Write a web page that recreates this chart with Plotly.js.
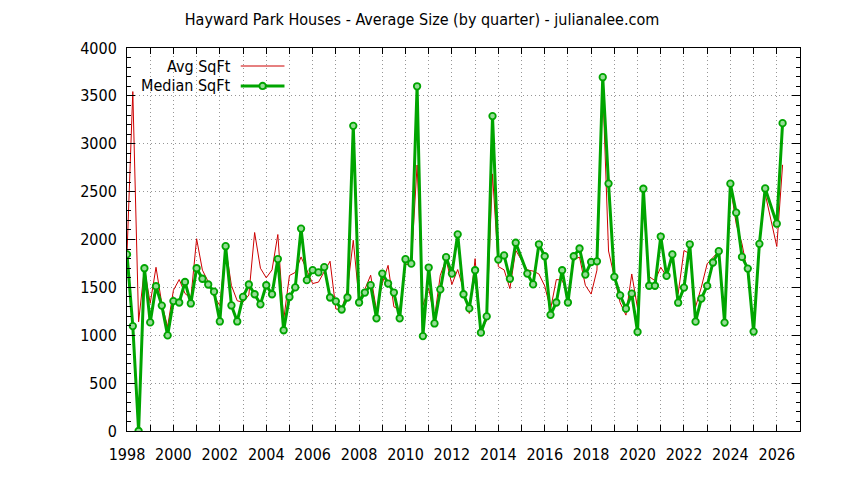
<!DOCTYPE html>
<html>
<head>
<meta charset="utf-8">
<script src="https://cdn.plot.ly/plotly-3.0.1.min.js"></script>
<style>
  html, body { margin: 0; padding: 0; background: #fff; }
  #chart { width: 844px; height: 480px; }
</style>
</head>
<body>
<div id="chart"></div>
<script>
// Quarter positions (decimal years); 2015 Q1 and 2025 Q4 have no data
const quarters = [
  1998.00, 1998.25, 1998.50, 1998.75,
  1999.00, 1999.25, 1999.50, 1999.75,
  2000.00, 2000.25, 2000.50, 2000.75,
  2001.00, 2001.25, 2001.50, 2001.75,
  2002.00, 2002.25, 2002.50, 2002.75,
  2003.00, 2003.25, 2003.50, 2003.75,
  2004.00, 2004.25, 2004.50, 2004.75,
  2005.00, 2005.25, 2005.50, 2005.75,
  2006.00, 2006.25, 2006.50, 2006.75,
  2007.00, 2007.25, 2007.50, 2007.75,
  2008.00, 2008.25, 2008.50, 2008.75,
  2009.00, 2009.25, 2009.50, 2009.75,
  2010.00, 2010.25, 2010.50, 2010.75,
  2011.00, 2011.25, 2011.50, 2011.75,
  2012.00, 2012.25, 2012.50, 2012.75,
  2013.00, 2013.25, 2013.50, 2013.75,
  2014.00, 2014.25, 2014.50, 2014.75,
           2015.25, 2015.50, 2015.75,
  2016.00, 2016.25, 2016.50, 2016.75,
  2017.00, 2017.25, 2017.50, 2017.75,
  2018.00, 2018.25, 2018.50, 2018.75,
  2019.00, 2019.25, 2019.50, 2019.75,
  2020.00, 2020.25, 2020.50, 2020.75,
  2021.00, 2021.25, 2021.50, 2021.75,
  2022.00, 2022.25, 2022.50, 2022.75,
  2023.00, 2023.25, 2023.50, 2023.75,
  2024.00, 2024.25, 2024.50, 2024.75,
  2025.00, 2025.25, 2025.50,
  2026.00, 2026.25
];

const avgSqFt = [
  1850, 3545, 1140, 1700,
  1333, 1710, 1330, 1088,
  1470, 1582, 1436, 1384,
  2008, 1680, 1560, 1410,
  1310, 1920, 1520, 1360,
  1345, 1420, 2073, 1700,
  1600, 1683, 2052, 1158,
  1624, 1656, 1818, 1680,
  1540, 1555, 1660, 1773,
  1274, 1268, 1480, 1992,
  1366, 1480, 1627, 1260,
  1540, 1730, 1297, 1265,
  1740, 1741, 2778, 1310,
  1490, 1180, 1627, 1792,
  1530, 1686, 1480, 1227,
  1800, 1045, 1158, 2685,
  1717, 1683, 1487, 1887,
        1682, 1670, 1640,
  1515, 1270, 1582, 1575,
  1427, 1790, 1816, 1522,
  1430, 1680, 3600, 1880,
  1620, 1340, 1210, 1640,
  1280, 2350, 1612, 1570,
  1710, 1615, 1820, 1434,
  1885, 1851, 1295, 1503,
  1746, 1816, 1878, 1094,
  2562, 2163, 1955, 1642,
  1087, 1955, 2476,
  1927, 2780
];

const medianSqFt = [
  1844, 1096, 0, 1700,
  1134, 1512, 1310, 998,
  1357, 1342, 1556, 1332,
  1700, 1590, 1530, 1455,
  1144, 1930, 1311, 1144,
  1400, 1530, 1428, 1323,
  1522, 1428, 1796, 1052,
  1400, 1500, 2114, 1575,
  1680, 1656, 1712, 1394,
  1354, 1269, 1394, 3187,
  1342, 1446, 1523, 1177,
  1644, 1540, 1446, 1177,
  1794, 1748, 3600, 991,
  1707, 1123, 1479, 1815,
  1644, 2054, 1428, 1280,
  1679, 1027, 1197, 3289,
  1790, 1834, 1590, 1966,
        1644, 1531, 1950,
  1825, 1213, 1342, 1679,
  1342, 1825, 1906, 1634,
  1765, 1772, 3695, 2584,
  1610, 1417, 1278, 1434,
  1035, 2530, 1517, 1517,
  2031, 1621, 1844, 1340,
  1498, 1950, 1142, 1383,
  1516, 1760, 1878, 1132,
  2583, 2280, 1818, 1696,
  1038, 1955, 2533,
  2165, 3215
];

const xTickVals = [1998, 2000, 2002, 2004, 2006, 2008, 2010, 2012, 2014, 2016, 2018, 2020, 2022, 2024, 2026];
const xTickText = ['1998', '2000', '2002', '2004', '2006', '2008', '2010', '2012', '2014', '2016', '2018', '2020', '2022', '2024', '2026'];
const yTickVals = [0, 500, 1000, 1500, 2000, 2500, 3000, 3500, 4000];
const seriesNames = ['Avg SqFt', 'Median SqFt'];
const chartTitle = 'Hayward Park Houses - Average Size (by quarter) - julianalee.com';

const FONT = 'DejaVu Sans Condensed, Liberation Sans Narrow, Liberation Sans, sans-serif';
const FS = 16;
const RED = 'rgb(205,0,0)';
const GREEN = 'rgb(0,165,0)';
const GRID = 'rgb(150,150,150)';
const DOTS = '1px,3px';

const traces = [
  {
    x: quarters, y: avgSqFt, name: seriesNames[0], type: 'scatter', mode: 'lines',
    line: { color: RED, width: 1 }, showlegend: false, hoverinfo: 'skip'
  },
  {
    x: quarters, y: medianSqFt, name: seriesNames[1], type: 'scatter', mode: 'lines+markers',
    line: { color: GREEN, width: 3 },
    marker: { symbol: 'circle', size: 6.5, color: 'rgb(150,220,150)', line: { color: GREEN, width: 1.8 } },
    showlegend: false, hoverinfo: 'skip'
  }
];

// Custom gnuplot-style legend (text then sample), placed in paper coordinates
const legRows = [0.953, 0.901];
const annotations = seriesNames.map((n, i) => ({
  xref: 'paper', yref: 'paper', x: 0.157, y: legRows[i],
  xanchor: 'right', yanchor: 'middle', text: n, showarrow: false,
  font: { family: FONT, size: FS, color: '#000' }
}));
const shapes = [
  { type: 'line', xref: 'paper', yref: 'paper', x0: 0.169, x1: 0.234, y0: legRows[0], y1: legRows[0],
    line: { color: RED, width: 1 } },
  { type: 'line', xref: 'paper', yref: 'paper', x0: 0.169, x1: 0.234, y0: legRows[1], y1: legRows[1],
    line: { color: GREEN, width: 3 } },
  { type: 'circle', xref: 'paper', yref: 'paper', x0: 0.2015 - 0.0047, x1: 0.2015 + 0.0047,
    y0: legRows[1] - 0.0083, y1: legRows[1] + 0.0083,
    fillcolor: 'rgb(150,220,150)', line: { color: GREEN, width: 1.8 } }
];

const layout = {
  width: 844, height: 480,
  margin: { l: 127, r: 44, t: 48, b: 49, pad: 0 },
  paper_bgcolor: '#fff', plot_bgcolor: '#fff',
  font: { family: FONT, size: FS, color: '#000' },
  title: { text: chartTitle, xref: 'container', x: 0.5, xanchor: 'center',
           yref: 'container', y: 1 - 19 / 480, yanchor: 'middle',
           font: { family: FONT, size: FS, color: '#000' } },
  xaxis: {
    range: [1998, 2027], tickvals: xTickVals, ticktext: xTickText,
    ticks: 'inside', ticklen: 6, tickcolor: '#000', tickwidth: 1,
    ticklabelstandoff: 9,
    showline: true, linecolor: '#000', linewidth: 1, mirror: 'allticks',
    showgrid: true, gridcolor: GRID, griddash: DOTS, gridwidth: 1,
    zeroline: false,
    minor: { dtick: 1, tick0: 1998, ticks: 'inside', ticklen: 6, tickcolor: '#000',
             showgrid: true, gridcolor: GRID, griddash: DOTS, gridwidth: 1 },
    tickfont: { family: FONT, size: FS, color: '#000' }
  },
  yaxis: {
    range: [0, 4000], tickvals: yTickVals,
    ticks: 'inside', ticklen: 8, tickcolor: '#000', tickwidth: 1,
    ticklabelstandoff: 6,
    showline: true, linecolor: '#000', linewidth: 1, mirror: 'allticks',
    showgrid: true, gridcolor: GRID, griddash: DOTS, gridwidth: 1,
    zeroline: false,
    minor: { dtick: 100, tick0: 0, ticks: 'inside', ticklen: 4, tickcolor: '#000', showgrid: false },
    tickfont: { family: FONT, size: FS, color: '#000' }
  },
  annotations: annotations,
  shapes: shapes,
  showlegend: false
};

Plotly.newPlot('chart', traces, layout, { staticPlot: true, displayModeBar: false });
</script>
</body>
</html>
